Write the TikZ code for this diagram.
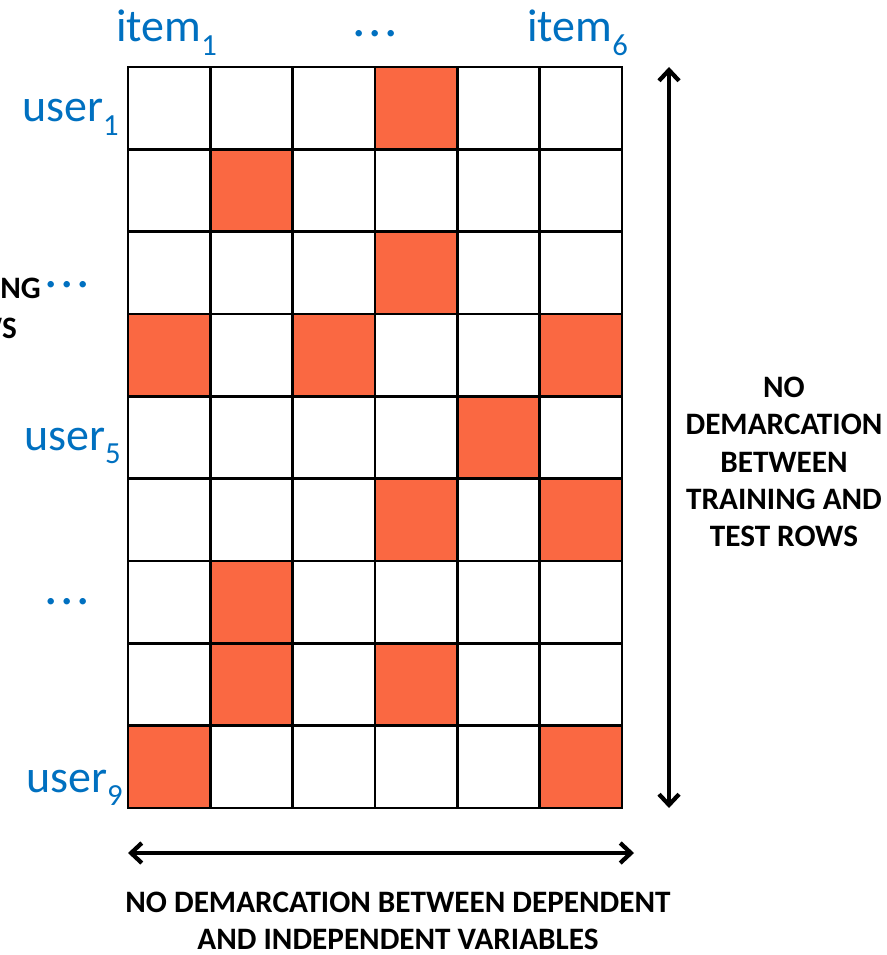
\documentclass[tikz,border=0pt]{standalone}
\usepackage{fontspec}
\setmainfont{Carlito}
\usetikzlibrary{arrows.meta}
\definecolor{itemblue}{RGB}{0,112,192}
\definecolor{ratedorange}{RGB}{250,104,66}
\newcommand{\idx}[1]{\raisebox{-0.3em}{\fontsize{23}{23}\selectfont #1}}
\newcommand{\vdotsrow}{{\fontsize{40}{40}\selectfont .\kern2pt.\kern2pt.}}

\begin{document}
\begin{tikzpicture}[x=0.75pt, y=-0.75pt,
    gridcell/.style={draw=black, line width=2pt, fill=white, minimum size=61.75pt, inner sep=0pt, outer sep=0pt},
    ratedcell/.style={gridcell, fill=ratedorange},
    bluelabel/.style={text=itemblue, font=\fontsize{34.5}{40}\selectfont, inner sep=0pt},
    notetext/.style={font=\bfseries\fontsize{23.4}{28}\selectfont, align=center, inner sep=0pt},
    spanarrow/.style={line width=3.2pt, {Straight Barb[length=8pt,width=15pt]}-{Straight Barb[length=8pt,width=15pt]}}]

  \useasboundingbox (0,0) rectangle (886,955);

  % empty matrix
  \foreach \r in {1,...,9}
    \foreach \c in {1,...,6}
      \node[gridcell] (c\r-\c) at ({128+(\c-0.5)*82.33}, {67+(\r-0.5)*82.33}) {};

  % rated entries
  \foreach \r/\c in {1/4, 2/2, 3/4, 4/1, 4/3, 4/6, 5/5, 6/4, 6/6, 7/2, 8/2, 8/4, 9/1, 9/6}
    \node[ratedcell] (r\r-\c) at (c\r-\c) {};

  % column labels
  \node[bluelabel, anchor=base west] (item1) at (116,42) {item\idx{1}};
  \node[bluelabel, anchor=base] (itemdots) at (375,37) {\vdotsrow};
  \node[bluelabel, anchor=base west] (item6) at (527,42) {item\idx{6}};

  % row labels
  \node[bluelabel, anchor=base east] (user1) at (119,122) {user\idx{1}};
  \node[bluelabel, anchor=base] (userdotsa) at (67,287) {\vdotsrow};
  \node[bluelabel, anchor=base east] (user5) at (121,450) {user\idx{5}};
  \node[bluelabel, anchor=base] (userdotsb) at (67,604) {\vdotsrow};
  \node[bluelabel, anchor=base east] (user9) at (123,792) {user\idx{9}};

  % clipped text at the left edge
  \node[notetext, anchor=east] (leftnotea) at (41,288) {NG};
  \node[notetext, anchor=east] (leftnoteb) at (17,328) {WS};

  % arrows
  \coordinate (rowtop) at (669,67);
  \coordinate (rowbot) at (669,808);
  \draw[spanarrow] (rowtop) -- (rowbot);

  \coordinate (colleft) at (128,853);
  \coordinate (colright) at (634,853);
  \draw[spanarrow] (colleft) -- (colright);

  \node[notetext] (rownote) at (784,462) {NO\\DEMARCATION\\BETWEEN\\TRAINING AND\\TEST ROWS};
  \node[notetext] (colnote) at (398,921) {NO DEMARCATION BETWEEN DEPENDENT\\AND INDEPENDENT VARIABLES};
\end{tikzpicture}
\end{document}
